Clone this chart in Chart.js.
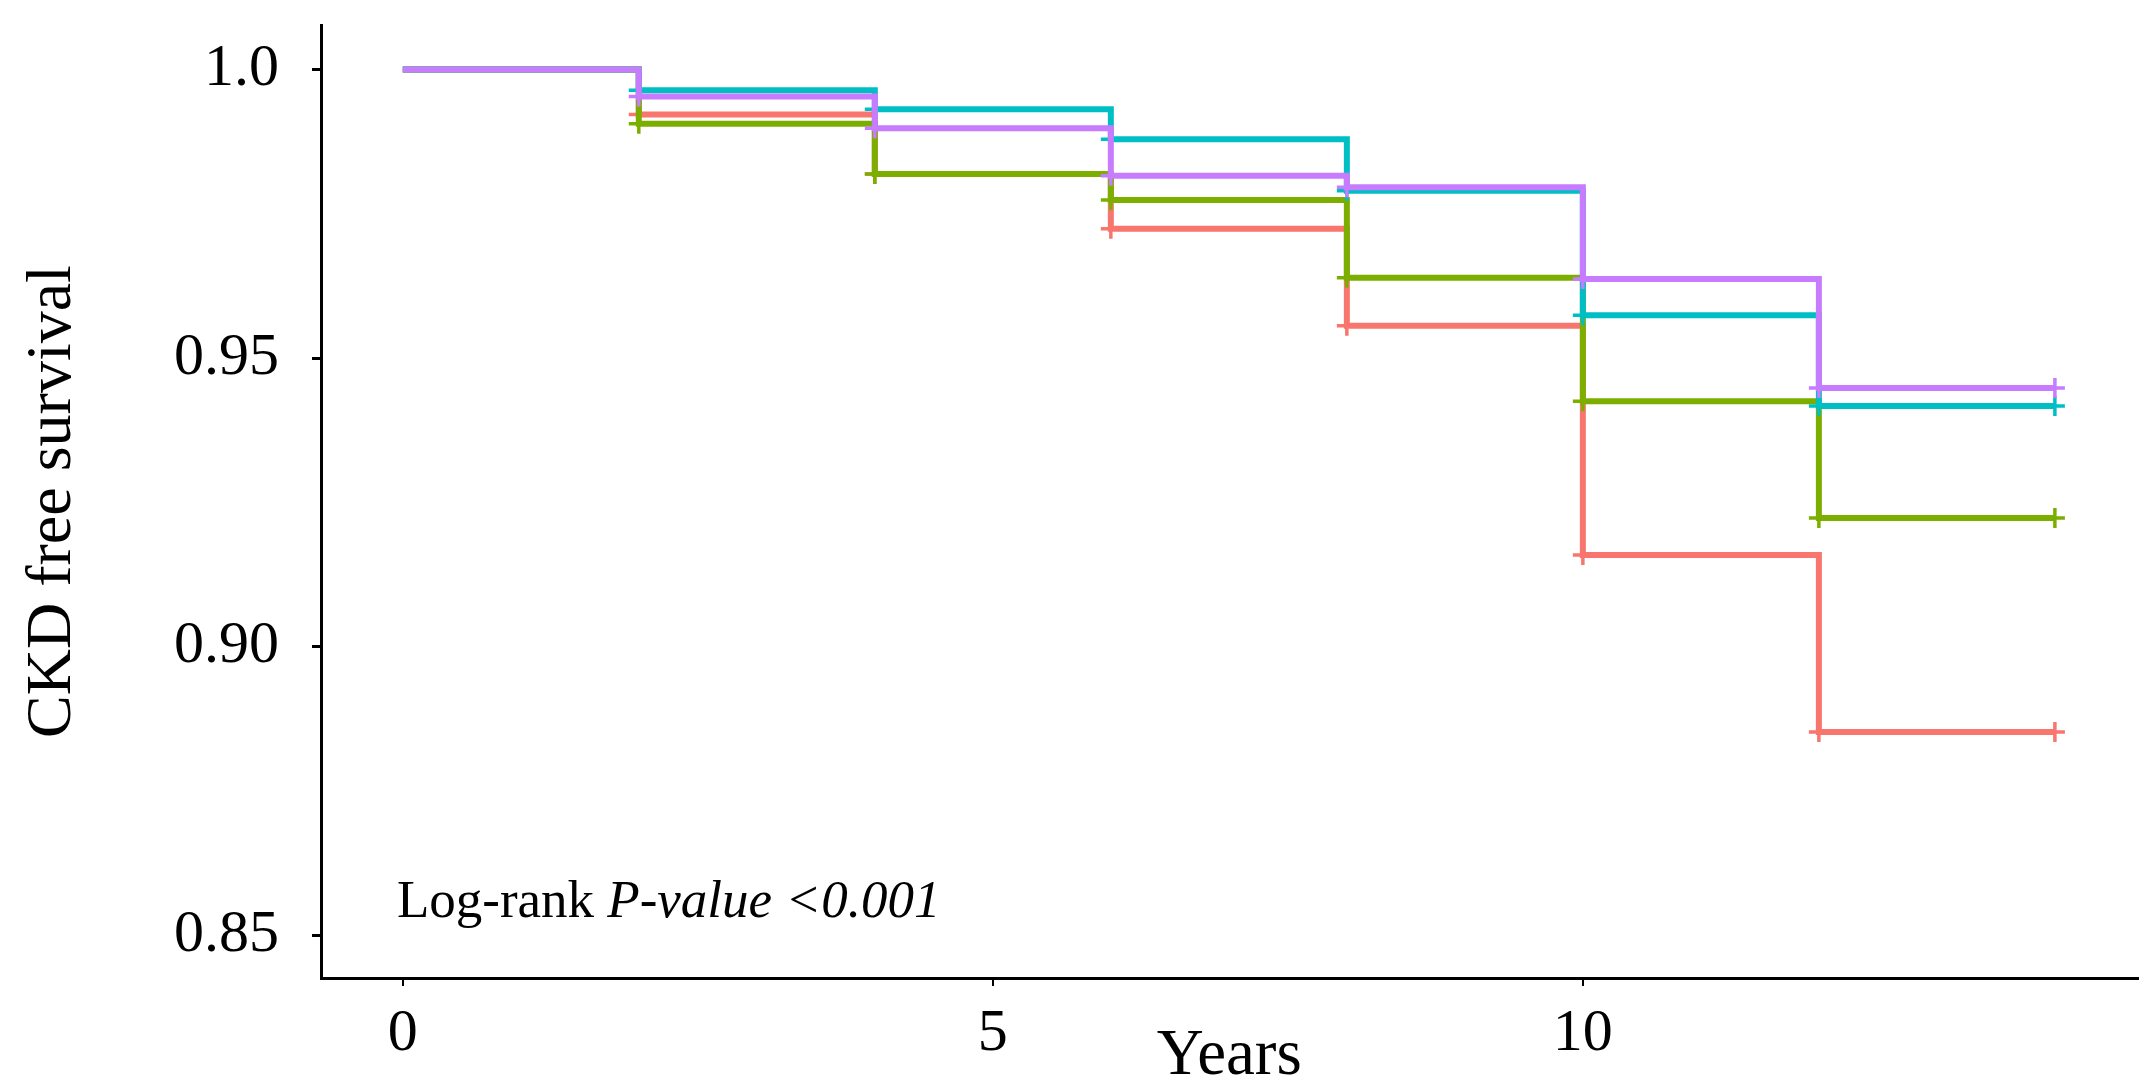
<!DOCTYPE html>
<html lang="en">
<head>
    <meta charset="UTF-8">
    <title>CKD free survival</title>
    <script src="https://cdn.jsdelivr.net/npm/chart.js"></script>
    <style>
        body { margin: 0; background: #ffffff; }
        #wrap { width: 2151px; height: 1089px; position: relative; }
    </style>
</head>
<body>
    <div id="wrap"><canvas id="chart"></canvas></div>

    <script>
        // follow-up times (years) and Kaplan-Meier estimates
        const years = [0, 2, 4, 6, 8, 10, 12, 14];
        const groupRed    = [1.0, 0.9922, 0.9819, 0.9724, 0.9556, 0.9159, 0.8852, 0.8852];
        const groupGreen  = [1.0, 0.9906, 0.9819, 0.9774, 0.9639, 0.9425, 0.9223, 0.9223];
        const groupTeal   = [1.0, 0.9964, 0.9931, 0.9879, 0.9790, 0.9574, 0.9417, 0.9417];
        const groupPurple = [1.0, 0.9953, 0.9898, 0.9816, 0.9796, 0.9637, 0.9448, 0.9448];

        const xTicks = [0, 5, 10];
        const xTickLabels = ['0', '5', '10'];
        const yTicks = [0.85, 0.90, 0.95, 1.0];
        const yTickLabels = ['0.85', '0.90', '0.95', '1.0'];

        const serif = "'Liberation Serif', 'Times New Roman', serif";

        // log-rank note, anchored in data units (x in years, y = baseline)
        const noteX = -0.05;
        const noteY = 0.8531;
        const noteParts = [
            { text: 'Log-rank ', italic: false },
            { text: 'P-value <0.001', italic: true }
        ];

        const logRankNote = {
            id: 'logRankNote',
            afterDatasetsDraw(chart) {
                const { ctx, scales: { x, y } } = chart;
                let px = x.getPixelForValue(noteX);
                const py = y.getPixelForValue(noteY);
                ctx.save();
                ctx.fillStyle = '#000';
                ctx.textBaseline = 'alphabetic';
                ctx.textAlign = 'left';
                noteParts.forEach(p => {
                    ctx.font = (p.italic ? 'italic ' : '') + '53px ' + serif;
                    ctx.fillText(p.text, px, py);
                    px += ctx.measureText(p.text).width;
                });
                ctx.restore();
            }
        };

        function series(label, values, color, order) {
            return {
                label: label,
                order: order,
                data: years.map((t, i) => ({ x: t, y: values[i] })),
                borderColor: color,
                backgroundColor: color,
                borderWidth: 6,
                stepped: 'before',
                fill: false,
                pointStyle: 'cross',
                pointRadius: years.map(t => t === 0 ? 0 : 10),
                pointBorderWidth: 3.5,
                pointBorderColor: color,
                borderCapStyle: 'butt',
                borderJoinStyle: 'miter'
            };
        }

        const ctx = document.getElementById('chart').getContext('2d');
        const chart = new Chart(ctx, {
            type: 'line',
            data: {
                datasets: [
                    series('Group 1', groupRed, '#F8766D', 3),
                    series('Group 2', groupGreen, '#7CAE00', 2),
                    series('Group 3', groupTeal, '#00BFC4', 1),
                    series('Group 4', groupPurple, '#C77CFF', 0)
                ]
            },
            options: {
                responsive: true,
                maintainAspectRatio: false,
                animation: false,
                layout: { padding: { top: 25, right: 4, bottom: 0, left: 0 } },
                plugins: {
                    legend: { display: false },
                    tooltip: { enabled: false }
                },
                scales: {
                    x: {
                        type: 'linear',
                        min: -0.693,
                        max: 14.7,
                        afterBuildTicks: s => { s.ticks = xTicks.map(v => ({ value: v })); },
                        afterFit: s => { s.height = 111; s.paddingLeft = 0; s.paddingRight = 0; },
                        grid: { drawOnChartArea: false, drawTicks: true, tickLength: 8, color: '#000', lineWidth: 2 },
                        border: { display: true, color: '#000', width: 3 },
                        ticks: {
                            padding: 12,
                            color: '#000',
                            font: { family: serif, size: 60 },
                            callback: (v, i) => xTickLabels[i]
                        },
                        title: {
                            display: true,
                            text: 'Years',
                            color: '#000',
                            font: { family: serif, size: 65 },
                            padding: { top: 0, bottom: -7 }
                        }
                    },
                    y: {
                        type: 'linear',
                        min: 0.8426,
                        max: 1.0077,
                        afterBuildTicks: s => { s.ticks = yTicks.map(v => ({ value: v })); },
                        afterFit: s => { s.width = 321; s.paddingTop = 0; s.paddingBottom = 0; },
                        grid: { drawOnChartArea: false, drawTicks: true, tickLength: 9, color: '#000', lineWidth: 3 },
                        border: { display: true, color: '#000', width: 3 },
                        ticks: {
                            padding: 33,
                            color: '#000',
                            font: { family: serif, size: 60 },
                            callback: (v, i) => yTickLabels[i]
                        },
                        title: {
                            display: true,
                            text: 'CKD free survival',
                            color: '#000',
                            font: { family: serif, size: 64 },
                            padding: { top: 15, bottom: 0 }
                        }
                    }
                }
            },
            plugins: [logRankNote]
        });
    </script>
</body>
</html>
